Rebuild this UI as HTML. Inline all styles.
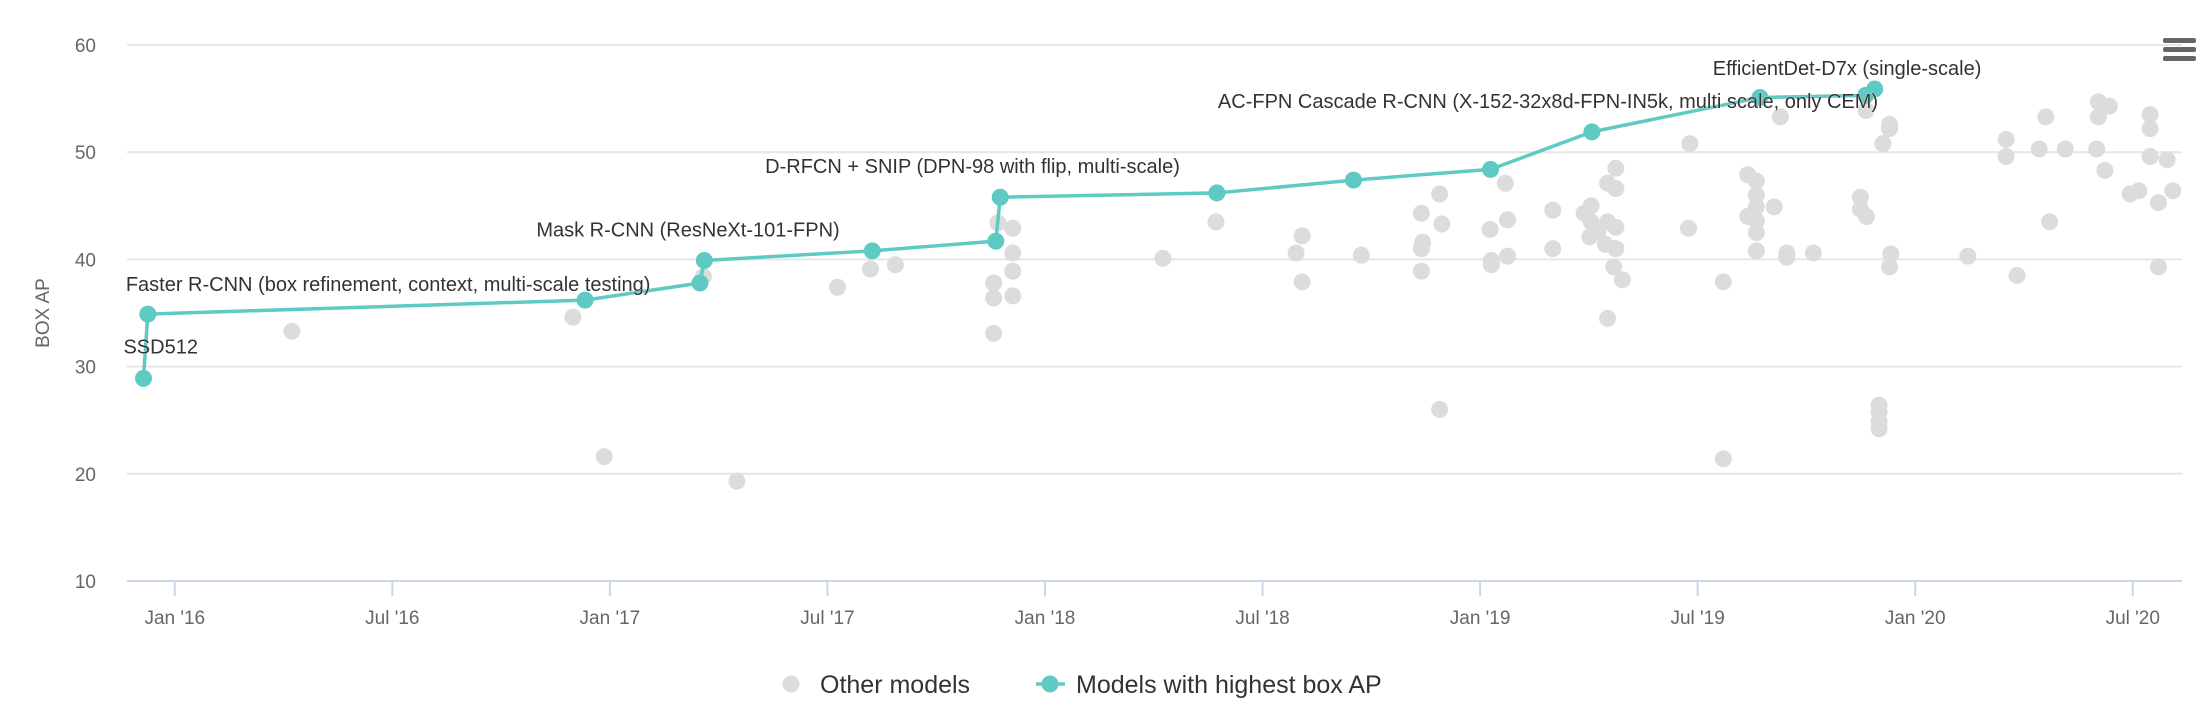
<!DOCTYPE html>
<html><head><meta charset="utf-8"><style>
html,body{margin:0;padding:0;background:#fff;}
svg{display:block;font-family:"Liberation Sans",sans-serif;}
</style></head><body>
<svg id="chart" width="2210" height="708" viewBox="0 0 2210 708"></svg>
<script>
const yTicks = [10,20,30,40,50,60];
const xTickDates = [2016,2016.5,2017,2017.5,2018,2018.5,2019,2019.5,2020,2020.5];
const xTickLabels = ["Jan '16","Jul '16","Jan '17","Jul '17","Jan '18","Jul '18","Jan '19","Jul '19","Jan '20","Jul '20"];
const bestDates = [2015.928,2015.938,2016.943,2017.207,2017.217,2017.603,2017.887,2017.897,2018.395,2018.709,2019.024,2019.257,2019.643,2019.886,2019.907];
const bestValues = [28.9,34.9,36.2,37.8,39.9,40.8,41.7,45.8,46.2,47.4,48.4,51.9,55.1,55.3,55.9];
const annotationIdx = [0,1,4,7,11,14];
const annotationText = ["SSD512","Faster R-CNN (box refinement, context, multi-scale testing)","Mask R-CNN (ResNeXt-101-FPN)","D-RFCN + SNIP (DPN-98 with flip, multi-scale)","AC-FPN Cascade R-CNN (X-152-32x8d-FPN-IN5k, multi scale, only CEM)","EfficientDet-D7x (single-scale)"];
const otherDates = [2016.269,2016.915,2016.987,2017.215,2017.292,2017.523,2017.599,2017.656,2017.882,2017.882,2017.882,2017.892,2017.926,2017.926,2017.926,2017.926,
2018.271,2018.393,2018.577,2018.591,2018.591,2018.727,2018.865,2018.868,2018.865,2018.865,2018.907,2018.912,2018.907,2019.023,2019.026,2019.026,2019.063,2019.063,2019.058,2019.167,2019.167,2019.239,2019.255,2019.255,2019.252,2019.271,2019.293,2019.312,2019.312,2019.293,2019.293,2019.312,2019.288,2019.312,2019.307,2019.327,
2019.479,2019.482,2019.559,2019.559,2019.615,2019.635,2019.635,2019.635,2019.615,2019.635,2019.635,2019.635,2019.676,2019.705,2019.705,2019.766,2019.690,2019.874,2019.874,2019.888,2019.887,2019.941,2019.941,2019.926,2019.944,2019.941,2019.917,2019.917,2019.917,2019.917,
2020.121,2020.209,2020.209,2020.234,2020.285,2020.300,2020.309,2020.345,2020.417,2020.421,2020.421,2020.446,2020.436,2020.494,2020.514,2020.540,2020.540,2020.540,2020.559,2020.579,2020.592,2020.559];
const otherValues = [33.3,34.6,21.6,38.4,19.3,37.4,39.1,39.5,37.8,36.4,33.1,43.4,42.9,40.6,38.9,36.6,
40.1,43.5,40.6,42.2,37.9,40.4,44.3,41.6,41.0,38.9,46.1,43.3,26.0,42.8,39.9,39.5,43.7,40.3,47.1,44.6,41.0,44.3,45.0,43.5,42.1,42.6,47.1,48.5,46.6,34.5,43.5,43.0,41.4,41.0,39.3,38.1,
42.9,50.8,37.9,21.4,47.9,47.3,46.0,44.9,44.0,43.6,42.5,40.8,44.9,40.6,40.2,40.6,53.3,45.8,44.7,44.0,53.9,52.6,52.2,50.8,40.5,39.3,26.4,25.8,24.9,24.2,
40.3,51.2,49.6,38.5,50.3,53.3,43.5,50.3,50.3,54.7,53.3,54.3,48.3,46.1,46.4,53.5,52.2,49.6,45.3,49.3,46.4,39.3];

const svg = document.getElementById('chart');
const NS = 'http://www.w3.org/2000/svg';
const X0 = 174.8, PX_PER_YEAR = 435.1, Y60 = 45, PX_PER_UNIT = 10.72;
function xs(t){ return X0 + (t-2016)*PX_PER_YEAR; }
function ys(v){ return Y60 + (60-v)*PX_PER_UNIT; }
function mk(tag, attrs, parent){
  const e = document.createElementNS(NS, tag);
  for (const k in attrs) e.setAttribute(k, attrs[k]);
  (parent||svg).appendChild(e); return e;
}
yTicks.forEach(v=>{
  if (v>10){
    const g = mk('line',{x1:127,x2:2182,y1:ys(v),y2:ys(v),stroke:'#e6e6e6','stroke-width':2});
    
    
  }
  const t = mk('text',{x:96,y:ys(v)+7,'text-anchor':'end','font-size':19,fill:'#666'});
  t.textContent = v;
  
  
});
const ax = mk('line',{x1:127,x2:2182,y1:581,y2:581,stroke:'#ccd6eb','stroke-width':2});


xTickDates.forEach((d,i)=>{
  const tk = mk('line',{x1:xs(d),x2:xs(d),y1:581,y2:596,stroke:'#ccd6eb','stroke-width':2});
  
  
  const t = mk('text',{x:xs(d),y:624,'text-anchor':'middle','font-size':19,fill:'#666'});
  t.textContent = xTickLabels[i];
  
  
});
const yt = mk('text',{x:0,y:0,transform:'translate(49,313) rotate(-90)','text-anchor':'middle','font-size':19,fill:'#666'});
yt.textContent = 'BOX AP';


otherDates.forEach((d,i)=>{
  const c = mk('circle',{cx:xs(d),cy:ys(otherValues[i]),r:8.5,fill:'#dcdcdc'});
  
  
});
const pts = bestDates.map((d,i)=>xs(d)+','+ys(bestValues[i])).join(' ');
const pl = mk('polyline',{points:pts,fill:'none',stroke:'#5fcac4','stroke-width':3.5,'stroke-linejoin':'round'});


bestDates.forEach((d,i)=>{
  const c = mk('circle',{cx:xs(d),cy:ys(bestValues[i]),r:8.5,fill:'#5fcac4'});
  
  
});
const annOffsets = [[-20,-25],[-22,-23],[-168,-24],[-235,-24],[-374,-24],[-162,-14]];
annotationIdx.forEach((idx,j)=>{
  const t = mk('text',{x:xs(bestDates[idx])+annOffsets[j][0],y:ys(bestValues[idx])+annOffsets[j][1],'font-size':20,fill:'#333',stroke:'#fff','stroke-width':0.5,'paint-order':'stroke'});
  t.textContent = annotationText[j];
  
  
});
</script>
<svg style="position:absolute;left:0;top:0" width="2210" height="708">
  <g fill="#666">
    <rect x="2163" y="38" width="33" height="5" rx="2"/>
    <rect x="2163" y="47" width="33" height="5" rx="2"/>
    <rect x="2163" y="56" width="33" height="5" rx="2"/>
  </g>
  <g>
    <circle cx="791" cy="684" r="8.5" fill="#dcdcdc"/>
    <text x="820" y="693" font-family="Liberation Sans, sans-serif" font-size="25" fill="#333">Other models</text>
  </g>
  <g>
    <line x1="1036" x2="1065" y1="684" y2="684" stroke="#5fcac4" stroke-width="3.5"/>
    <circle cx="1050" cy="684" r="8.5" fill="#5fcac4"/>
    <text x="1076" y="693" font-family="Liberation Sans, sans-serif" font-size="25" fill="#333">Models with highest box AP</text>
  </g>
</svg>
</body></html>
